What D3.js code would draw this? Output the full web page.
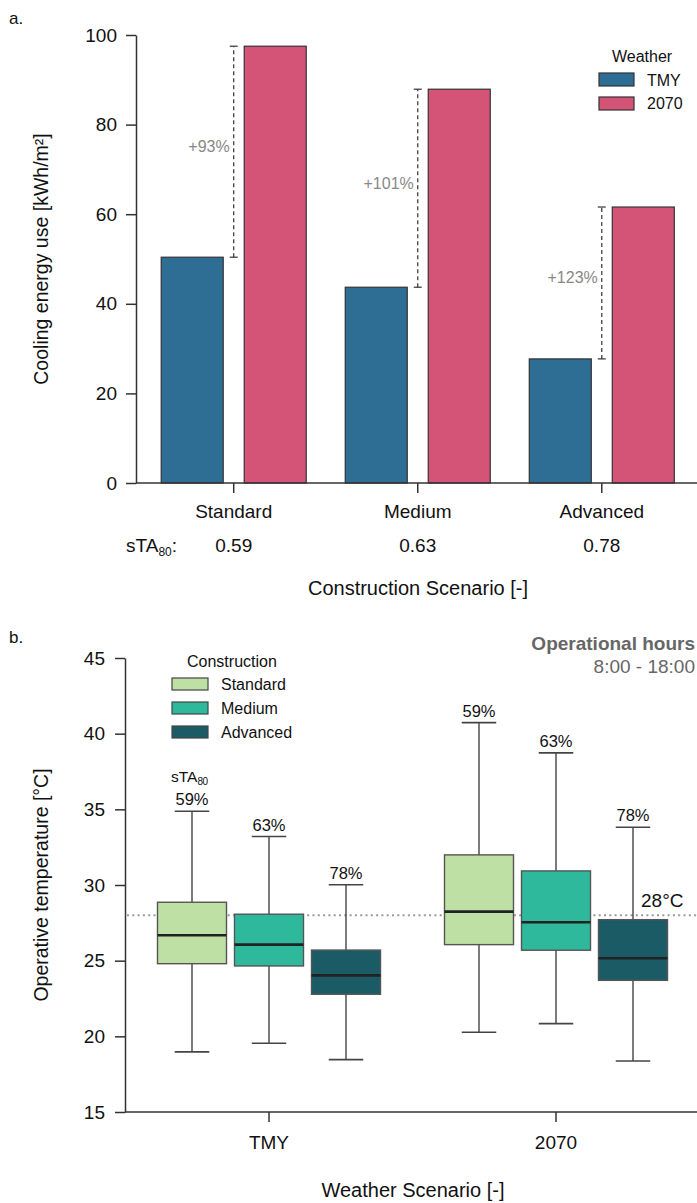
<!DOCTYPE html>
<html><head><meta charset="utf-8">
<script src="https://cdn.jsdelivr.net/npm/d3@7"></script>
<style>
html,body{margin:0;padding:0;background:#fff;}
svg{display:block;font-family:"Liberation Sans",Arial,Helvetica,sans-serif;}
</style></head>
<body>
<svg id="chart" width="697" height="1203"></svg>
<script>
// ---------- Panel a data ----------
const constructions = ["Standard", "Medium", "Advanced"];
const weathers = ["TMY", "2070"];
const sta80Values = ["0.59", "0.63", "0.78"];
const coolingTMY = [50.4, 43.7, 27.7];
const cooling2070 = [97.5, 87.9, 61.6];
const increaseLabels = ["+93%", "+101%", "+123%"];
const yTicksA = [0, 20, 40, 60, 80, 100];

// ---------- Panel b data ([lower whisker, Q1, median, Q3, upper whisker] per weather) ----------
const standardStats = [[18.97, 24.8, 26.68, 28.86, 34.87], [20.27, 26.06, 28.24, 31.99, 40.73]];
const mediumStats   = [[19.54, 24.65, 26.06, 28.07, 33.2], [20.84, 25.69, 27.54, 30.93, 38.73]];
const advancedStats = [[18.46, 22.78, 24.03, 25.7, 30.02], [18.37, 23.7, 25.16, 27.71, 33.82]];
const staPercent = ["59%", "63%", "78%"];
const yTicksB = [15, 20, 25, 30, 35, 40, 45];
const thresholdTemp = 28;

const svg = d3.select("#chart");
const axisColor = "#333";
const font = 19;

// =================== PANEL A ===================
const weatherColors = d3.scaleOrdinal().domain(weathers).range(["#2e6e94", "#d45478"]);
const xA = d3.scaleBand().domain(constructions).range([141.7, 693.8]).padding(0);
const xAInner = d3.scaleBand().domain(weathers).range([-72.5, 72.5]).paddingInner(0.253).paddingOuter(0);
const yA = d3.scaleLinear().domain([0, 100]).range([483, 35]);
const centerA = c => xA(c) + xA.bandwidth() / 2;

svg.append("text").attr("x", 9).attr("y", 24).attr("font-size", 17).attr("fill", "#111").text("a.");

const gA = svg.append("g");
const barData = [];
constructions.forEach((c, i) => {
  barData.push({c, w: "TMY", v: coolingTMY[i]});
  barData.push({c, w: "2070", v: cooling2070[i]});
});
gA.selectAll("rect.bar").data(barData).enter().append("rect")
  .attr("x", d => centerA(d.c) + xAInner(d.w))
  .attr("width", xAInner.bandwidth())
  .attr("y", d => yA(d.v))
  .attr("height", d => yA(0) - yA(d.v))
  .attr("fill", d => weatherColors(d.w))
  .attr("stroke", "#333").attr("stroke-width", 1.2);

// annotation dashed lines
constructions.forEach((c, i) => {
  const xl = centerA(c);
  const y0 = yA(coolingTMY[i]), y1 = yA(cooling2070[i]);
  gA.append("line").attr("x1", xl).attr("x2", xl).attr("y1", y0).attr("y2", y1)
    .attr("stroke", "#333").attr("stroke-width", 1.2).attr("stroke-dasharray", "4,3");
  [y0, y1].forEach(yy => gA.append("line").attr("x1", xl - 4).attr("x2", xl + 4).attr("y1", yy).attr("y2", yy)
    .attr("stroke", "#333").attr("stroke-width", 1.2));
  gA.append("text").attr("x", xl - 4).attr("y", (y0 + y1) / 2 - 5).attr("dominant-baseline", "central")
    .attr("text-anchor", "end").attr("font-size", 16).attr("fill", "#888").text(increaseLabels[i]);
});

// y axis A
const yAxisA = d3.axisLeft(yA).tickValues(yTicksA).tickSize(10).tickPadding(9).tickSizeOuter(0);
const gyA = svg.append("g").attr("transform", "translate(136,0)").call(yAxisA);
gyA.select(".domain").attr("stroke", axisColor).attr("stroke-width", 1.5);
gyA.selectAll(".tick line").attr("stroke", axisColor).attr("stroke-width", 1.5);
gyA.selectAll(".tick text").attr("font-size", font).attr("fill", "#111").attr("font-family", null);

// x axis A
svg.append("line").attr("x1", 136).attr("x2", 697).attr("y1", 483).attr("y2", 483)
  .attr("stroke", axisColor).attr("stroke-width", 1.5);
constructions.forEach((c, i) => {
  const xc = centerA(c);
  svg.append("line").attr("x1", xc).attr("x2", xc).attr("y1", 483).attr("y2", 493)
    .attr("stroke", axisColor).attr("stroke-width", 1.5);
  svg.append("text").attr("x", xc).attr("y", 511).attr("dominant-baseline", "central")
    .attr("text-anchor", "middle").attr("font-size", font).attr("fill", "#111").text(c);
  svg.append("text").attr("x", xc).attr("y", 545).attr("dominant-baseline", "central")
    .attr("text-anchor", "middle").attr("font-size", font).attr("fill", "#111").text(sta80Values[i]);
});
const staA = svg.append("text").attr("x", 126).attr("y", 552).attr("font-size", font).attr("fill", "#111");
staA.append("tspan").text("sTA");
staA.append("tspan").attr("font-size", 12).attr("dy", 4).text("80");
staA.append("tspan").attr("dy", -4).text(":");

svg.append("text").attr("x", 418).attr("y", 588).attr("dominant-baseline", "central")
  .attr("text-anchor", "middle").attr("font-size", 20).attr("fill", "#111").text("Construction Scenario [-]");
svg.append("text").attr("transform", "translate(41,259) rotate(-90)").attr("dominant-baseline", "central")
  .attr("text-anchor", "middle").attr("font-size", 19.5).attr("fill", "#111").text("Cooling energy use [kWh/m²]");

// legend A
svg.append("text").attr("x", 612).attr("y", 56).attr("dominant-baseline", "central")
  .attr("font-size", 16).attr("fill", "#111").text("Weather");
weathers.forEach((w, i) => {
  svg.append("rect").attr("x", 599).attr("y", 73 + i * 24).attr("width", 35).attr("height", 13)
    .attr("fill", weatherColors(w)).attr("stroke", "#333").attr("stroke-width", 1.2);
  svg.append("text").attr("x", 647).attr("y", 80 + i * 23.5).attr("dominant-baseline", "central")
    .attr("font-size", 16).attr("fill", "#111").text(w);
});

// =================== PANEL B ===================
const consColors = d3.scaleOrdinal().domain(constructions).range(["#bfe0a5", "#2fb99c", "#1b5b66"]);
const xB = d3.scaleBand().domain(weathers).range([125.5, 699.5]).padding(0);
const xBInner = d3.scalePoint().domain(constructions).range([-77, 77]);
const yB = d3.scaleLinear().domain([15, 45]).range([1112, 658]);
const centerB = w => xB(w) + xB.bandwidth() / 2;
const boxW = 69;

svg.append("text").attr("x", 9).attr("y", 643).attr("font-size", 17).attr("fill", "#111").text("b.");

// threshold line
svg.append("line").attr("x1", 127).attr("x2", 697).attr("y1", yB(thresholdTemp)).attr("y2", yB(thresholdTemp))
  .attr("stroke", "#999").attr("stroke-width", 2.2).attr("stroke-dasharray", "2,3.3");
svg.append("text").attr("x", 641).attr("y", yB(thresholdTemp) - 15).attr("dominant-baseline", "central")
  .attr("font-size", 19).attr("fill", "#111").text(thresholdTemp + "°C");

const statsByCons = {Standard: standardStats, Medium: mediumStats, Advanced: advancedStats};
const boxData = [];
weathers.forEach((w, wi) => constructions.forEach((c, ci) => {
  const s = statsByCons[c][wi];
  boxData.push({w, c, ci, lo: s[0], q1: s[1], med: s[2], q3: s[3], hi: s[4]});
}));
const gB = svg.append("g");
boxData.forEach(d => {
  const xc = centerB(d.w) + xBInner(d.c);
  const g = gB.append("g");
  g.append("line").attr("x1", xc).attr("x2", xc).attr("y1", yB(d.hi)).attr("y2", yB(d.lo))
    .attr("stroke", "#444").attr("stroke-width", 1.4);
  [d.hi, d.lo].forEach(v => g.append("line").attr("x1", xc - boxW / 4).attr("x2", xc + boxW / 4)
    .attr("y1", yB(v)).attr("y2", yB(v)).attr("stroke", "#444").attr("stroke-width", 1.6));
  g.append("rect").attr("x", xc - boxW / 2).attr("width", boxW)
    .attr("y", yB(d.q3)).attr("height", yB(d.q1) - yB(d.q3))
    .attr("fill", consColors(d.c)).attr("stroke", "#555").attr("stroke-width", 1.4);
  g.append("line").attr("x1", xc - boxW / 2).attr("x2", xc + boxW / 2).attr("y1", yB(d.med)).attr("y2", yB(d.med))
    .attr("stroke", "#222").attr("stroke-width", 2.6);
  g.append("text").attr("x", xc).attr("y", yB(d.hi) - 12).attr("dominant-baseline", "central")
    .attr("text-anchor", "middle").attr("font-size", 16.5).attr("fill", "#111").text(staPercent[d.ci]);
  if (d.w === weathers[0] && d.ci === 0) {
    const t = g.append("text").attr("x", xc - 21).attr("y", yB(d.hi) - 29).attr("font-size", 15.5).attr("fill", "#111");
    t.append("tspan").text("sTA");
    t.append("tspan").attr("font-size", 10).attr("dy", 3).attr("letter-spacing", -0.5).text("80");
  }
});

// y axis B
const yAxisB = d3.axisLeft(yB).tickValues(yTicksB).tickSize(10).tickPadding(10).tickSizeOuter(0);
const gyB = svg.append("g").attr("transform", "translate(125,0)").call(yAxisB);
gyB.select(".domain").attr("stroke", axisColor).attr("stroke-width", 1.5);
gyB.selectAll(".tick line").attr("stroke", axisColor).attr("stroke-width", 1.5);
gyB.selectAll(".tick text").attr("font-size", font).attr("fill", "#111").attr("font-family", null);

// x axis B
svg.append("line").attr("x1", 125).attr("x2", 697).attr("y1", 1112).attr("y2", 1112)
  .attr("stroke", axisColor).attr("stroke-width", 1.5);
weathers.forEach(w => {
  const xc = centerB(w);
  svg.append("line").attr("x1", xc).attr("x2", xc).attr("y1", 1112).attr("y2", 1122)
    .attr("stroke", axisColor).attr("stroke-width", 1.5);
  svg.append("text").attr("x", xc).attr("y", 1142).attr("dominant-baseline", "central")
    .attr("text-anchor", "middle").attr("font-size", font).attr("fill", "#111").text(w);
});
svg.append("text").attr("x", 413).attr("y", 1190).attr("dominant-baseline", "central")
  .attr("text-anchor", "middle").attr("font-size", 20).attr("fill", "#111").text("Weather Scenario [-]");
svg.append("text").attr("transform", "translate(41,885) rotate(-90)").attr("dominant-baseline", "central")
  .attr("text-anchor", "middle").attr("font-size", 19.5).attr("fill", "#111").text("Operative temperature [°C]");

// legend B
svg.append("text").attr("x", 187).attr("y", 661).attr("dominant-baseline", "central")
  .attr("font-size", 16).attr("fill", "#111").text("Construction");
constructions.forEach((c, i) => {
  svg.append("rect").attr("x", 172).attr("y", 678 + i * 24).attr("width", 36).attr("height", 12)
    .attr("fill", consColors(c)).attr("stroke", "#444").attr("stroke-width", 1.2);
  svg.append("text").attr("x", 221).attr("y", 684 + i * 24).attr("dominant-baseline", "central")
    .attr("font-size", 16).attr("fill", "#111").text(c);
});

// operational hours note
svg.append("text").attr("x", 695).attr("y", 643).attr("dominant-baseline", "central").attr("text-anchor", "end")
  .attr("font-size", 19).attr("font-weight", "bold").attr("fill", "#666").text("Operational hours");
svg.append("text").attr("x", 695).attr("y", 666).attr("dominant-baseline", "central").attr("text-anchor", "end")
  .attr("font-size", 19).attr("fill", "#666").text("8:00 - 18:00");
</script>
</body></html>
